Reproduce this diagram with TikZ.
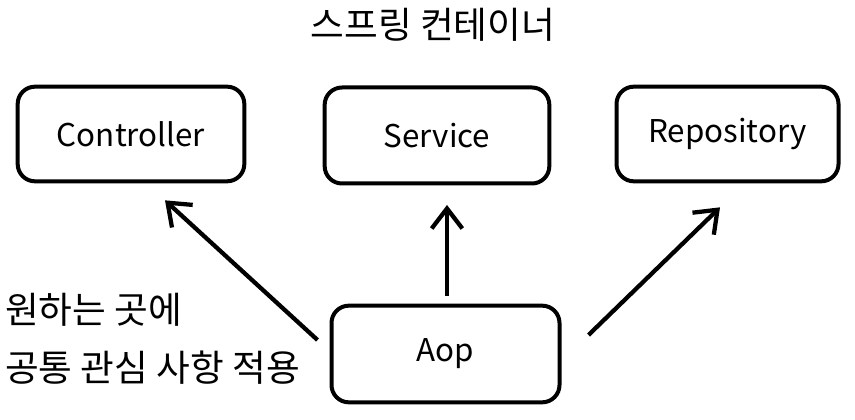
\documentclass[tikz,border=0pt]{standalone}
\usepackage{fontspec}
\setmainfont{Noto Sans CJK KR}
\usetikzlibrary{arrows.meta}
\begin{document}
\begin{tikzpicture}[x=0.75pt,y=-0.75pt,
  box/.style={draw, line width=3pt, rounded corners=13pt, font=\fontsize{23.5}{28}\selectfont},
  arrow/.style={line width=3.2pt, -{Straight Barb[length=15pt,width=23pt]}},
  note/.style={anchor=west, inner sep=0pt, font=\fontsize{27.5}{32}\selectfont}]
\useasboundingbox (0,0) rectangle (855,420);
\node[inner sep=0pt, font=\fontsize{27.5}{32}\selectfont] (title) at (433,25) {스프링 컨테이너};
\node[box, minimum width=170pt, minimum height=71pt] (ctrl) at (131,134) {Controller};
\node[box, minimum width=168.5pt, minimum height=72pt] (svc) at (437,135.5) {Service};
\node[box, minimum width=166.5pt, minimum height=71pt] (repo) at (727.5,134) {Repository};
\node[box, minimum width=171pt, minimum height=72.5pt] (aop) at (445.5,354) {Aop};
\node[note] (n1) at (5,310) {원하는 곳에};
\node[note] (n2) at (5,368) {공통 관심 사항 적용};
\draw[arrow] ([shift={(-12,-14)}]aop.west) -- ([shift={(34,17)}]ctrl.south);
\draw[arrow] ([shift={(1.5,-8)}]aop.north) -- ([shift={(10,19.5)}]svc.south);
\draw[arrow] ([shift={(27,-19)}]aop.east) -- ([shift={(-7.5,24)}]repo.south);
\end{tikzpicture}
\end{document}
